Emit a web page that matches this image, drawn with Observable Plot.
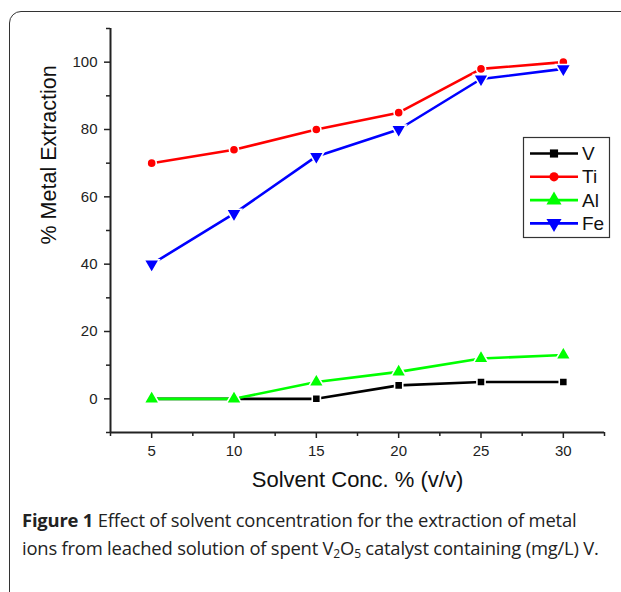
<!DOCTYPE html>
<html>
<head>
<meta charset="utf-8">
<script src="https://cdn.jsdelivr.net/npm/d3@7"></script>
<script src="https://cdn.jsdelivr.net/npm/@observablehq/plot@0.6"></script>
<style>
  html, body { margin: 0; padding: 0; background: #fff; }
  body { width: 621px; height: 592px; position: relative; overflow: hidden; }
  #frame { position: absolute; left: 9px; top: 11px; width: 700px; height: 700px;
           border: 1.6px solid #333; border-radius: 12px; box-sizing: border-box; }
  #chart { position: absolute; left: 0; top: 0; }
  #caption { position: absolute; left: 22px; top: 506px; width: 600px;
             font-family: "Open Sans", sans-serif; font-size: 18.4px; line-height: 28px;
             color: #222; letter-spacing: -0.2px; white-space: nowrap; font-weight: 400; }
  #caption b { font-weight: 700; }
</style>
</head>
<body>
<div id="frame"></div>
<div id="chart"></div>
<div id="caption"><b>Figure 1</b> Effect of solvent concentration for the extraction of metal<br>ions from leached solution of spent V<sub style="font-size:12px;vertical-align:-3px">2</sub>O<sub style="font-size:12px;vertical-align:-3px">5</sub> catalyst containing (mg/L) V.</div>
<script>
const conc = [5, 10, 15, 20, 25, 30];
const series = ["V", "Ti", "Al", "Fe"];
const vValues = [0, 0, 0, 4, 5, 5];
const tiValues = [70, 74, 80, 85, 98, 100];
const alValues = [0, 0, 5, 8, 12, 13];
const feValues = [40, 55, 72, 80, 95, 98];
const colors = ["#000000", "#ff0000", "#00ff00", "#0000ff"];
const xMajor = [5, 10, 15, 20, 25, 30];
const xMinor = [2.5, 7.5, 12.5, 17.5, 22.5, 27.5, 32.5];
const yMajor = [0, 20, 40, 60, 80, 100];
const yMinor = [-10, 10, 30, 50, 70, 90, 110];
const xLabel = "Solvent Conc. % (v/v)";
const yLabel = "% Metal Extraction";

const valuesBySeries = [vValues, tiValues, alValues, feValues];
const data = series.flatMap((s, i) => conc.map((c, j) => ({series: s, conc: c, value: valuesBySeries[i][j]})));

const invTriangle = {
  draw(context, size) {
    const s = Math.sqrt(size / (Math.sqrt(3) / 4));
    const h = s * Math.sqrt(3) / 2;
    context.moveTo(0, h * 2 / 3);
    context.lineTo(s / 2, -h / 3);
    context.lineTo(-s / 2, -h / 3);
    context.closePath();
  }
};
const upTriangle = {
  draw(context, size) {
    const s = Math.sqrt(size / (Math.sqrt(3) / 4));
    const h = s * Math.sqrt(3) / 2;
    context.moveTo(0, -h * 2 / 3);
    context.lineTo(s / 2, h / 3);
    context.lineTo(-s / 2, h / 3);
    context.closePath();
  }
};
const symbols = ["square", "circle", upTriangle, invTriangle];
const radii = [4.6, 4.6, 5.6, 5.6];

const font = "'Liberation Sans', Arial, sans-serif";

const chart = Plot.plot({
  width: 621,
  height: 500,
  marginLeft: 110,
  marginRight: 17,
  marginTop: 28,
  marginBottom: 68,
  style: {fontFamily: font, fontSize: "15px", color: "#222", background: "transparent", overflow: "visible"},
  x: {domain: [2.5, 32.5]},
  y: {domain: [-10, 110]},
  color: {domain: series, range: colors},
  marks: [
    Plot.axisX({ticks: xMinor, tickSize: 4, tickFormat: () => "", strokeWidth: 1.5, stroke: "#222", label: null}),
    Plot.axisX({ticks: xMajor, tickSize: 6, tickPadding: 7, fontSize: 15, fontFamily: font, fill: "#222", strokeWidth: 1.5, stroke: "#222", label: null}),
    Plot.axisY({ticks: yMinor, tickSize: 4, tickFormat: () => "", strokeWidth: 1.5, stroke: "#222", label: null}),
    Plot.axisY({ticks: yMajor, tickSize: 6, tickPadding: 7, fontSize: 15, fontFamily: font, fill: "#222", strokeWidth: 1.5, stroke: "#222", label: null}),
    Plot.ruleY([-10], {stroke: "#222", strokeWidth: 2}),
    Plot.ruleX([2.5], {stroke: "#222", strokeWidth: 2}),
    Plot.text([xLabel], {frameAnchor: "bottom", dy: 54, fontSize: 22, fill: "#111", fontFamily: font}),
    Plot.text([yLabel], {frameAnchor: "left", dx: -61, dy: 14, rotate: -90, fontSize: 21.5, fill: "#111", fontFamily: font}),
    Plot.line(data, {x: "conc", y: "value", z: "series", stroke: "series", strokeWidth: 2.6}),
    ...series.map((s, i) => Plot.dot(data.filter(d => d.series === s), {
      x: "conc", y: "value", symbol: symbols[i], r: radii[i], fill: colors[i], stroke: "#fff", strokeWidth: 1.6
    }))
  ]
});
document.getElementById("chart").append(chart);

// legend
const svg = d3.select(chart);
const lg = svg.append("g").attr("font-family", font).attr("text-anchor", "start");
lg.append("rect").attr("x", 523.5).attr("y", 137.5).attr("width", 86).attr("height", 100)
  .attr("fill", "#fff").attr("stroke", "#333").attr("stroke-width", 1.2);
series.forEach((s, i) => {
  const yy = 153.5 + i * 23.3;
  lg.append("line").attr("x1", 530).attr("x2", 578).attr("y1", yy).attr("y2", yy)
    .attr("stroke", colors[i]).attr("stroke-width", 2.6);
  const sym = typeof symbols[i] === "string" ? (symbols[i] === "square" ? d3.symbolSquare : d3.symbolCircle) : symbols[i];
  lg.append("path").attr("transform", `translate(554,${yy})`)
    .attr("d", d3.symbol(sym, Math.PI * radii[i] * radii[i])())
    .attr("fill", colors[i]);
  lg.append("text").attr("x", 582).attr("y", yy).attr("dy", "0.35em")
    .attr("text-anchor", "start").attr("font-size", 19).attr("fill", "#111").text(s);
});
</script>
</body>
</html>
